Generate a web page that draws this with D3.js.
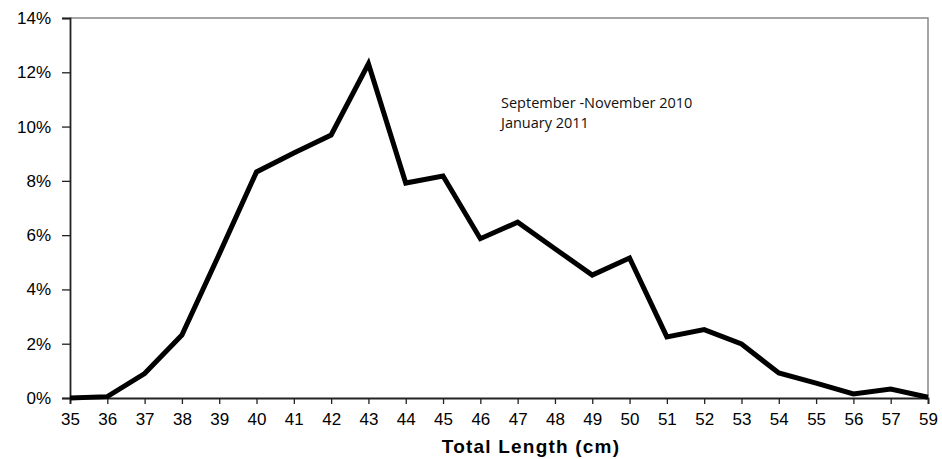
<!DOCTYPE html>
<html>
<head>
<meta charset="utf-8">
<script src="https://cdn.jsdelivr.net/npm/d3@7/dist/d3.min.js"></script>
<style>
  body { margin: 0; background: #fff; }
  svg { display: block; }
</style>
</head>
<body>
<div id="chart"></div>
<script>
// size classes, cm (note: 58 is not in the source)
var lengths = ["35","36","37","38","39","40","41","42","43","44","45","46",
               "47","48","49","50","51","52","53","54","55","56","57","59"];
// share of catch, percent
var percents = [0.0, 0.05, 0.9, 2.32, 5.3, 8.33, 9.03, 9.69, 12.31, 7.92, 8.18, 5.87,
                6.48, 5.5, 4.53, 5.16, 2.25, 2.52, 1.99, 0.92, 0.55, 0.15, 0.33, 0.03];
var yTicks = [0, 2, 4, 6, 8, 10, 12, 14];
var noteLines = ["September -November 2010", "January 2011"];

var width = 942, height = 459;
var margin = {top: 18, right: 14, bottom: 61, left: 70};
var w = width - margin.left - margin.right;
var h = height - margin.top - margin.bottom;

var svg = d3.select("#chart").append("svg")
    .attr("width", width)
    .attr("height", height);

var g = svg.append("g")
    .attr("transform", "translate(" + margin.left + "," + margin.top + ")");

var x = d3.scalePoint()
    .domain(lengths)
    .range([0, w]);

var y = d3.scaleLinear()
    .domain([0, 14])
    .range([h, 0]);

// plot area border (top and right, grey)
g.append("path")
    .attr("d", "M0,0H" + w + "V" + h)
    .attr("fill", "none")
    .attr("stroke", "#888")
    .attr("stroke-width", 1.5);

var yAxis = g.append("g")
    .call(d3.axisLeft(y).tickValues(yTicks).tickSize(8).tickPadding(11)
        .tickFormat(function(d){ return d + "%"; }));

var xAxis = g.append("g")
    .attr("transform", "translate(0," + h + ")")
    .call(d3.axisBottom(x).tickSize(6).tickPadding(9));

[yAxis, xAxis].forEach(function(ax){
  ax.select(".domain").attr("stroke", "#222").attr("stroke-width", 1.8);
  ax.selectAll(".tick line").attr("stroke", "#222").attr("stroke-width", 1.3);
  ax.selectAll(".tick text")
      .attr("fill", "#000")
      .style("font-family", "'Liberation Sans', Arial, sans-serif")
      .style("font-size", "17px");
});

var line = d3.line()
    .x(function(d, i){ return x(lengths[i]); })
    .y(function(d){ return y(d); });

g.append("path")
    .datum(percents)
    .attr("d", line)
    .attr("fill", "none")
    .attr("stroke", "#000")
    .attr("stroke-width", 5)
    .attr("stroke-linejoin", "miter");

g.append("text")
    .attr("x", 531 - margin.left)
    .attr("y", h + 55)
    .attr("text-anchor", "middle")
    .style("font-family", "'Liberation Sans', Arial, sans-serif")
    .style("font-weight", "bold")
    .style("font-size", "19px")
    .style("letter-spacing", "1.2px")
    .text("Total Length (cm)");

var note = g.append("text")
    .attr("x", 431)
    .attr("y", 90)
    .style("font-family", "'Open Sans', 'Noto Sans', sans-serif")
    .style("font-size", "14.5px")
    .attr("fill", "#111");

note.selectAll("tspan")
    .data(noteLines)
    .enter().append("tspan")
    .attr("x", 431)
    .attr("dy", function(d, i){ return i ? 20 : 0; })
    .text(function(d){ return d; });
</script>
</body>
</html>
